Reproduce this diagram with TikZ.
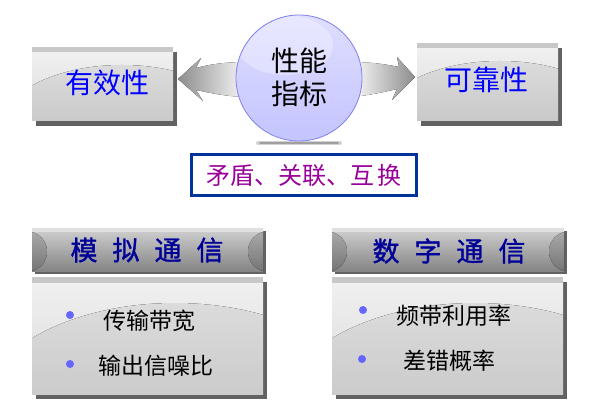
\documentclass[tikz,border=0pt]{standalone}
\usepackage{fontspec}
\setmainfont{Noto Sans CJK SC}
\newfontfamily\cjkb[FakeBold=1.2]{Noto Sans CJK SC}
\definecolor{shadowgray}{HTML}{626262}
\definecolor{stripgray}{HTML}{C8C8C8}
\definecolor{txtblue}{HTML}{0000FF}
\definecolor{hdrblue}{HTML}{000099}
\definecolor{frameblue}{HTML}{003399}
\definecolor{txtpurple}{HTML}{990099}
\definecolor{bulletblue}{HTML}{6666FF}
\definecolor{circfill}{HTML}{C4C4FF}
\definecolor{circline}{HTML}{8080F0}
\tikzset{
  lbl/.style={font=\fontsize{28}{32}\selectfont, text=txtblue, inner sep=0pt},
  hdr/.style={font=\cjkb\fontsize{27}{30}\selectfont, text=hdrblue, inner sep=0pt},
  item/.style={font=\fontsize{23}{26}\selectfont, text=black, inner sep=0pt},
  bullet/.style={circle, fill=bulletblue, minimum size=8pt, inner sep=0pt},
  upper/.style={top color=white!94!black, bottom color=white!86!black},
  lower/.style={top color=white!86!black, bottom color=white!70!black},
}
\newcommand{\panel}[5]{% x1 y1 x2 y2 arc: ellipse spec
  \fill[shadowgray] (#1+4,#2+5) rectangle (#3+4,#4+5);
  \fill[stripgray] (#1,#2) rectangle (#3,#2+6);
  \fill[upper] (#1,#2+6) rectangle (#3,#4);
  \begin{scope}
    \clip (#1,#2+6) rectangle (#3,#4);
    \fill[lower] #5;
  \end{scope}
}
\newcommand{\header}[4]{% x1 y1 x2 y2
  \fill[shadowgray] (#1+3,#2+3) rectangle (#3+3,#4+3);
  \fill[top color=white!82!black, bottom color=white!52!black] (#1,#2) rectangle (#3,#4);
  \fill[white!88!black] (#1,#2) rectangle (#3,#2+4);
  \fill[top color=white!66!black, bottom color=white!46!black]
    (#1,#2+4) .. controls (#1+20,#2+10) and (#1+20,#4-6) .. (#1,#4) -- cycle;
  \fill[top color=white!66!black, bottom color=white!46!black]
    (#3,#2+4) .. controls (#3-20,#2+10) and (#3-20,#4-6) .. (#3,#4) -- cycle;
}
\begin{document}
\begin{tikzpicture}[x=1pt,y=-1pt]
\useasboundingbox (0,0) rectangle (596,403);

% top boxes
\panel{32}{47}{173}{121}{(122,132) ellipse (125 and 67)}
\panel{417}{43}{558}{121}{(500,128) ellipse (125 and 67)}
\node[lbl] (eff) at (107,83) {有效性};
\node[lbl] (rel) at (486,80) {可靠性};

% arrows
\coordinate (ltip) at (178,79);
\coordinate (rtip) at (415,77);
\fill[left color=gray!90, right color=white]
  (ltip) -- (201,58) .. controls (198,63) .. (196,68)
  .. controls (215,63) and (230,62) .. (250,62) -- (250,97)
  .. controls (230,97) and (215,94) .. (196,90)
  .. controls (199,95) .. (203,101) -- cycle;
\fill[right color=gray!90, left color=white]
  (rtip) -- (397,57) .. controls (398,62) .. (399,67)
  .. controls (380,63) and (365,62) .. (350,62) -- (350,97)
  .. controls (365,96) and (380,93) .. (397,89)
  .. controls (395,94) .. (392,100) -- cycle;

% circle shadow
\draw[line width=4pt, gray!35, line cap=round] (258,143) -- (340,143);
\draw[line width=2pt, gray!75, line cap=round] (260,143) -- (338,143);

% circle
\node[circle, minimum size=126pt, inner sep=0pt, draw=circline, line width=0.8pt,
      top color=white!45!circfill, bottom color=circfill] (perf) at (299,78) {};
\begin{scope}
  \clip (299,78) circle (62);
  \fill[white, opacity=0.3] (285,45) ellipse (48 and 30);
\end{scope}
\node[font=\fontsize{28}{33}\selectfont, align=center, inner sep=0pt] (perft) at (299,77) {性能\\指标};

% relation box
\node[draw=frameblue, line width=3pt, fill=white, minimum width=225pt, minimum height=41pt,
      font=\fontsize{24}{28}\selectfont, text=txtpurple] (rel2) at (304,175) {矛盾、关联、互\,换};

% headers
\header{32}{228}{263}{271}
\header{332}{228}{564}{271}
\node[hdr] (ana) at (147,250) {模\hspace{15pt}拟\hspace{15pt}通\hspace{15pt}信};
\node[hdr] (dig) at (449,251) {数\hspace{15pt}字\hspace{15pt}通\hspace{15pt}信};

% bodies
\panel{32}{277}{263}{394}{(175,420) ellipse (200 and 117)}
\panel{332}{277}{563}{394}{(475,420) ellipse (200 and 117)}

\node[bullet] (b1) at (70,315) {};
\node[bullet] (b2) at (70,364) {};
\node[bullet] (b3) at (363,310) {};
\node[bullet] (b4) at (362,359) {};
\node[item] (t1) at (149,321) {传输带宽};
\node[item] (t2) at (156,366) {输出信噪比};
\node[item] (t3) at (454,316) {频带利用率};
\node[item] (t4) at (449,361) {差错概率};
\end{tikzpicture}
\end{document}
